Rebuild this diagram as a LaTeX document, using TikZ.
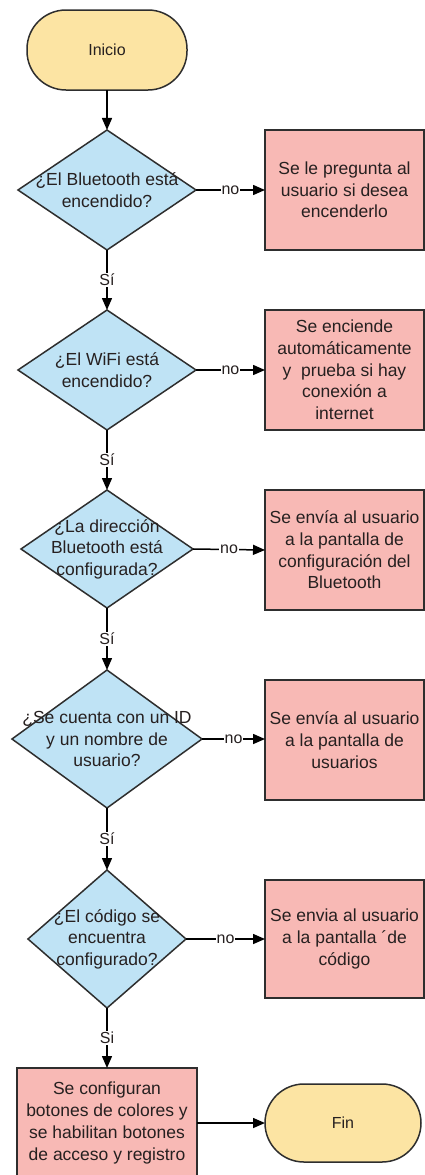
\documentclass[tikz,border=0pt]{standalone}
\usepackage{fontspec}
\setmainfont{Liberation Sans}
\usetikzlibrary{shapes.geometric,arrows.meta}
\definecolor{termfill}{HTML}{FCE4A3}
\definecolor{decfill}{HTML}{BFE3F5}
\definecolor{procfill}{HTML}{F8B9B5}
\definecolor{edge}{HTML}{2E2E2E}
\definecolor{txt}{HTML}{262020}
\tikzset{
  base/.style={draw=edge, line width=1.5pt, text=txt, inner sep=0pt, outer sep=0pt},
  term/.style={base, fill=termfill, rounded corners=39pt, font=\fontsize{16}{19}\selectfont},
  dec/.style={base, diamond, fill=decfill},
  dtext/.style={text=txt, align=center, inner sep=0pt, font=\fontsize{17.5}{21.5}\selectfont},
  proc/.style={base, rectangle, fill=procfill, align=center, font=\fontsize{17.5}{21.7}\selectfont},
  arr/.style={line width=1.5pt, draw=black, -{Triangle[length=12pt,width=10pt]}},
  lab/.style={fill=white, text=txt, inner sep=1pt, font=\fontsize{16}{19}\selectfont},
}
\begin{document}
\begin{tikzpicture}[x=1pt,y=-1pt]
\useasboundingbox (0,0) rectangle (425,1175);
\fill[white] (0,0) rectangle (425,1175);
% terminals
\node[term, minimum width=160pt, minimum height=80pt] (start) at (107,50) {Inicio};
\node[term, minimum width=156pt, minimum height=78pt] (fin) at (343,1123) {Fin};
% decisions
\node[dec, minimum width=178pt, minimum height=120pt] (d1) at (107,190) {};
\node[dtext] (t1) at (d1.center) {¿El Bluetooth está\\encendido?};
\node[dec, minimum width=178pt, minimum height=120pt] (d2) at (107,370) {};
\node[dtext] (t2) at (d2.center) {¿El WiFi está\\encendido?};
\node[dec, minimum width=172pt, minimum height=118pt] (d3) at (107,549) {};
\node[dtext] (t3) at (d3.center) {¿La dirección\\Bluetooth está\\configurada?};
\node[dec, minimum width=190pt, minimum height=138pt] (d4) at (107,739) {};
\node[dtext] (t4) at (d4.center) {¿Se cuenta con un ID\\y un nombre de\\usuario?};
\node[dec, minimum width=158pt, minimum height=138pt] (d5) at (107,939) {};
\node[dtext] (t5) at (d5.center) {¿El código se\\encuentra\\configurado?};
% processes
\node[proc, minimum width=159pt, minimum height=120pt] (p1) at (344.5,190) {Se le pregunta al\\usuario si desea\\encenderlo};
\node[proc, minimum width=159pt, minimum height=120pt] (p2) at (344.5,370) {Se enciende\\automáticamente\\y~ prueba si hay\\conexión a\\internet};
\node[proc, minimum width=159pt, minimum height=120pt] (p3) at (344.5,550) {Se envía al usuario\\a la pantalla de\\configuración del\\Bluetooth};
\node[proc, minimum width=159pt, minimum height=120pt] (p4) at (344.5,740) {Se envía al usuario\\a la pantalla de\\usuarios};
\node[proc, minimum width=159pt, minimum height=118pt] (p5) at (344.5,939) {Se envia al usuario\\a la pantalla ´de\\código};
\node[proc, minimum width=180pt, minimum height=110pt] (p6) at (107,1123) {Se configuran\\botones de colores y\\se habilitan botones\\de acceso y registro};
% connectors
\draw[arr] (start) -- (d1);
\draw[arr] (d1.south) -- node[lab] {Sí} (d2.north);
\draw[arr] (d2.south) -- node[lab] {Sí} (d3.north);
\draw[arr] (d3.south) -- node[lab] {Sí} (d4.north);
\draw[arr] (d4.south) -- node[lab] {Sí} (d5.north);
\draw[arr] (d5.south) -- node[lab] {Si} (p6.north);
\draw[arr] (d1.east) -- node[lab] {no} (p1.west);
\draw[arr] (d2.east) -- node[lab] {no} (p2.west);
\draw[arr] (d3.east) -- node[lab] {no} (p3.west);
\draw[arr] (d4.east) -- node[lab] {no} (d4.east -| p4.west);
\draw[arr] (d5.east) -- node[lab] {no} (p5.west);
\draw[arr] (p6.east) -- (fin.west);
\end{tikzpicture}
\end{document}
